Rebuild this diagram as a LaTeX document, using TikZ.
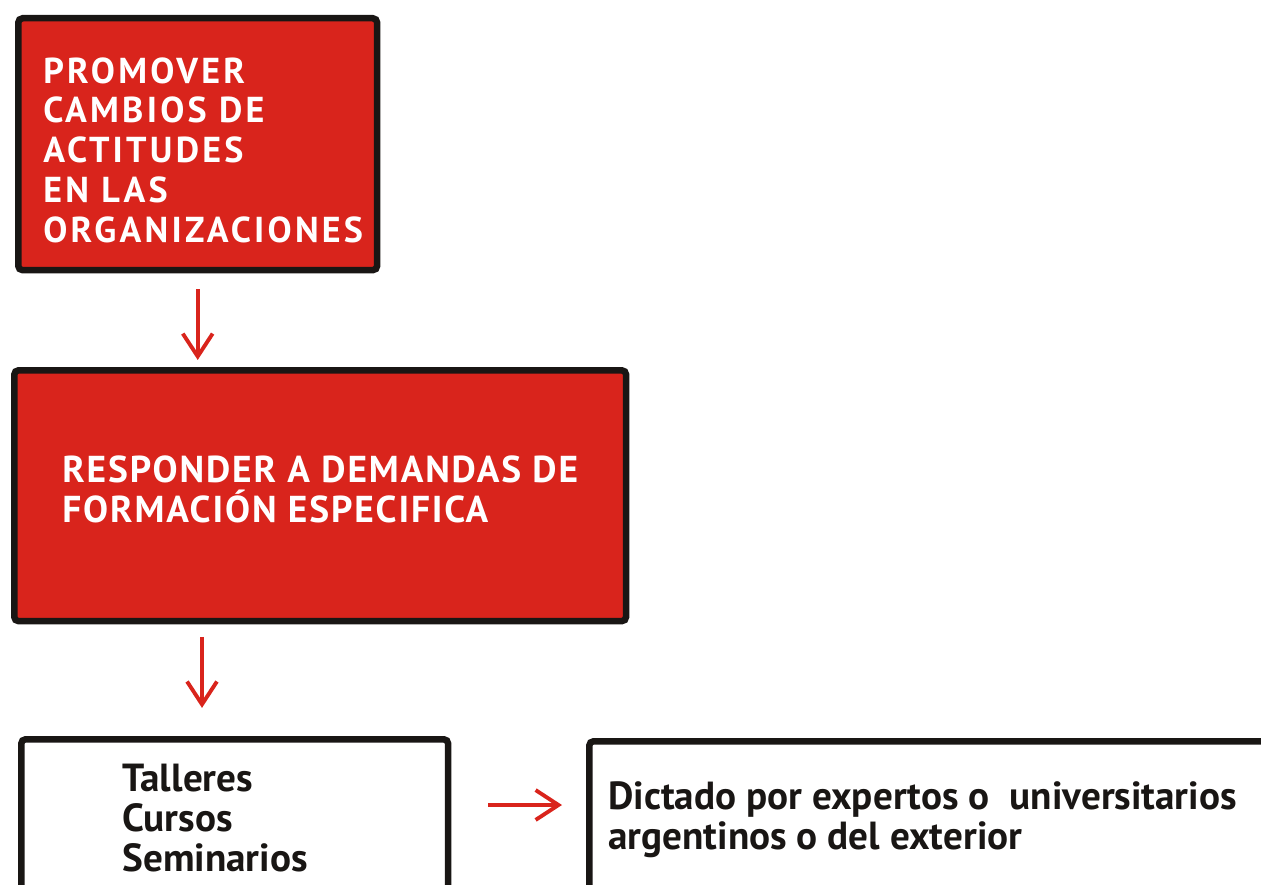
\documentclass[tikz,border=0pt]{standalone}
\usepackage{fontspec}
\setmainfont{PT Sans}
\usetikzlibrary{arrows.meta}
\usetikzlibrary{calc}
\tikzset{>={Straight Barb[length=13pt,width=17pt]}}
\definecolor{boxred}{RGB}{217,36,28}
\definecolor{ink}{RGB}{25,22,20}
\tikzset{
  box/.style={draw=ink, line width=3.7pt, rounded corners=2.5pt, anchor=north west, inner sep=0pt},
  redbox/.style={box, fill=boxred},
  flow/.style={->, draw=boxred, line width=2.2pt},
  boxtext/.style={anchor=north west, inner sep=0pt, align=left},
}

\begin{document}
\begin{tikzpicture}[x=0.02cm, y=-0.02cm]
    \useasboundingbox (0,0) rectangle (1261,885);
    \clip (0,0) rectangle (1261,885);
    % boxes
    \node[redbox, minimum width=7.18cm, minimum height=5.04cm] (promover) at (15,15) {};
    \node[redbox, minimum width=12.24cm, minimum height=5.02cm] (responder) at (11,367) {};
    \node[box, fill=white, minimum width=8.54cm, minimum height=6cm] (talleres) at (18,736) {};
    \node[box, fill=white, minimum width=14.4cm, minimum height=6cm] (dictado) at (586,738) {};
    % texts
    \node[boxtext, text=white, font=\fontsize{20.5}{22.7}\selectfont\bfseries\addfontfeatures{LetterSpace=9}]
      (t1) at ($(promover.north west)+(28,42)$)
      {PROMOVER\\CAMBIOS DE\\ACTITUDES\\EN LAS\\ORGANIZACIONES};
    \node[boxtext, text=white, font=\fontsize{21.3}{22.8}\selectfont\bfseries\addfontfeatures{LetterSpace=5}]
      (t2) at ($(responder.north west)+(51,88)$)
      {RESPONDER A DEMANDAS DE\\FORMACIÓN ESPECIFICA};
    \node[boxtext, text=ink, font=\fontsize{22.3}{22.7}\selectfont\bfseries]
      (t3) at ($(talleres.north west)+(104,28)$)
      {Talleres\\Cursos\\Seminarios};
    \node[boxtext, text=ink, font=\fontsize{22.3}{22.7}\selectfont\bfseries]
      (t4) at ($(dictado.north west)+(22,43)$)
      {Dictado por expertos o\ \ universitarios\\argentinos o del exterior};
    % arrows
    \draw[flow, shorten <=9pt, shorten >=4pt] (promover.south) -- (promover.south |- responder.north);
    \draw[flow, shorten <=7pt, shorten >=16pt] ($(responder.south west)+(191,0)$) -- ($(talleres.north west)+(184,0)$);
    \draw[flow] ($(talleres.north east)+(37,69)$) -- ($(dictado.north west)+(-24,67)$);
\end{tikzpicture}
\end{document}
